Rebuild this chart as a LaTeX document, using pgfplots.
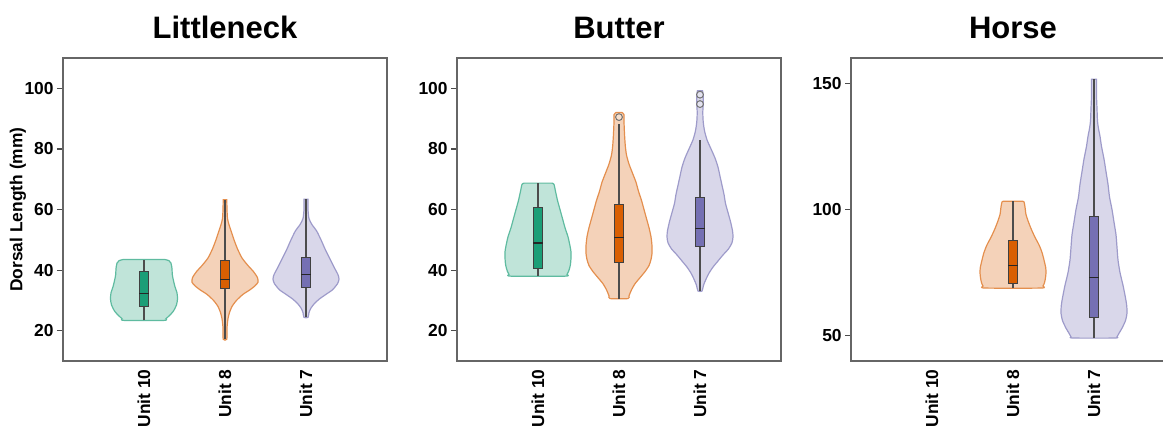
\documentclass[border=0pt]{standalone}
\usepackage{fontspec}
\setmainfont{Liberation Sans}
\usepackage{pgfplots}
\usepackage{pgfplotstable}
\pgfplotsset{compat=1.18}

\definecolor{cg}{HTML}{1B9E77}
\definecolor{co}{HTML}{D95F02}
\definecolor{cp}{HTML}{7570B3}

% builds a closed outline: right side top->bottom, then left side bottom->top
\newcommand{\mkviolin}[1]{%
  \pgfplotstablesort[sort key=y, sort cmp={float <}]{\tmprev}{#1}%
  \pgfplotstablecreatecol[expr={-\thisrow{w}}]{d}{\tmprev}%
  \pgfplotstablecreatecol[expr={\thisrow{w}}]{d}{#1}%
  \pgfplotstablevertcat{#1}{\tmprev}%
}

% violin half-widths (w, in px of a 81 px category step) at values y, top to bottom
\pgfplotstableread{
y w
43.5 21
43.1 25
42.3 27
40.5 28
38.5 28.3
36.5 29.5
34.5 31
32.5 33
30.5 33.5
28.5 32.5
26.5 29.5
25 25.5
24 22
23.4 20
}\LNten
\pgfplotstableread{
y w
63.2 1.8
60 2
57 2.5
55 4
53 6
50 9
47 12.5
44 17
41.5 23
39.5 28.5
37.5 32.5
36 33
34.8 30
33.5 25
32 18
30 11.5
28 7
26 4.5
24 3
21 2
17.2 1.8
}\LNeight
\pgfplotstableread{
y w
63.4 2
60 2
57 3
55 6
53 10.5
50 15
47 19
44 23.5
41 28
38.5 32
37 33
35.5 31.5
33.5 26.5
32 20
30.5 13.5
29 8.5
27.5 5
26 3
24.4 2
}\LNseven
\pgfplotstableread{
y w
68.7 14
68.3 16
66 17.5
63 19.5
60 22
57 24.5
54 27
51 30
48 32
46 33
44 33
42 32.5
40.5 31.5
39.5 30.5
38.6 29
38.0 27
}\Bten
\pgfplotstableread{
y w
92 3
91.3 5
89 5
85 5.5
81 6.3
78 7.5
75 10
72 13.5
69 17
66 19.5
63 22.5
60 25
57 27.5
54 30
51 32
48 33
45.5 33
43.5 32
41.5 30
39.5 26
37.5 21
35.5 16
33.5 12.5
31.5 10
30.6 9
}\Beight
\pgfplotstableread{
y w
99.2 2.5
98 3.2
96.5 3.2
94.5 3.2
92 2.8
89 3.2
86 4.5
83 7
80 11
77 15
74 18
71 20
68 22
65 24
62 25.5
59 28
56 30.5
53 32.5
51 33
49 32
47 28.5
45 23
43 18
41 13
39 9
37 6
35 3.5
33.1 2
}\Bseven
\pgfplotstableread{
y w
103.3 9
103 11
101 12
98 13
95 15.5
92 18.5
89 22
86 26
83 29
80 31
77 32.7
75 33
73 32.5
71 31.5
69.7 30
68.9 28
}\Height
\pgfplotstableread{
y w
151.6 2.5
145 2.5
140 3
135 3.5
132 4.5
129 6
125 7.5
120 10
115 12
110 14
105 15.5
100 18
95 20
90 22
85 23
80 24
75 26
70 29
65 31.5
62 32.7
59 33
56 31.5
53 28
51 25
49.6 23
49.1 21
}\Hseven

\mkviolin{\LNten}
\mkviolin{\LNeight}
\mkviolin{\LNseven}
\mkviolin{\Bten}
\mkviolin{\Beight}
\mkviolin{\Bseven}
\mkviolin{\Height}
\mkviolin{\Hseven}

% #1 centre, #2 table, #3 colour
\newcommand{\violin}[3]{%
  \addplot[fill=#3, fill opacity=0.28, draw=#3!70!white, line width=0.6pt, smooth, tension=0.4]
    table[x expr={#1+\thisrow{d}/81}, y=y] {#2} -- cycle;
}
% #1 centre, #2 left, #3 right, #4 min, #5 q1, #6 median, #7 q3, #8 max, #9 colour
\newcommand{\bx}[9]{%
  \addplot[draw=black!70, line width=0.6pt] coordinates {(#1,#4) (#1,#8)};
  \addplot[draw=black!75, fill=#9, line width=0.5pt] coordinates {(#2,#5) (#3,#5) (#3,#7) (#2,#7)} -- cycle;
  \addplot[draw=black!85, line width=0.7pt] coordinates {(#2,#6) (#3,#6)};
}

\pgfplotsset{
  panel/.style={
    scale only axis, width=162pt, height=151.5pt,
    xmin=0, xmax=4, xtick={1,2,3}, xticklabels={Unit 10,Unit 8,Unit 7},
    axis line style={black!60, line width=0.75pt},
    xtick style={draw=none},
    ytick pos=left, tick align=outside, major tick length=3pt,
    ytick style={black!70, line width=0.6pt},
    tick label style={font=\fontsize{8.7}{10}\selectfont\bfseries},
    /pgf/number format/assume math mode=true,
    xticklabel style={rotate=90, anchor=east, inner sep=1pt},
    yticklabel style={inner sep=1.5pt},
    every axis title/.style={at={(0.5,1)}, anchor=base, yshift=10pt,
      font=\fontsize{15.5}{18}\selectfont\bfseries},
  },
}

\begin{document}
\begin{tikzpicture}
\begin{axis}[panel, at={(31.5pt,32pt)}, anchor=south west,
  ymin=10, ymax=110, ytick={20,40,60,80,100}, title={Littleneck},
  ylabel={Dorsal Length (mm)},
  every axis y label/.style={at={(axis description cs:-0.139,0.5)}, rotate=90, anchor=center,
    font=\fontsize{8.7}{10}\selectfont\bfseries}]
\violin{1}{\LNten}{cg}
\violin{2}{\LNeight}{co}
\violin{3}{\LNseven}{cp}
\bx{1}{0.944}{1.056}{23.4}{28.0}{32.2}{39.7}{43.5}{cg}
\bx{2}{1.944}{2.056}{17.2}{33.8}{36.9}{43.2}{63.2}{co}
\bx{3}{2.944}{3.056}{24.4}{34.4}{38.5}{44.1}{63.4}{cp}
\end{axis}

\begin{axis}[panel, at={(228.5pt,32pt)}, anchor=south west,
  ymin=10, ymax=110, ytick={20,40,60,80,100}, title={Butter}]
\violin{1}{\Bten}{cg}
\violin{2}{\Beight}{co}
\violin{3}{\Bseven}{cp}
\bx{1}{0.944}{1.056}{38.0}{40.6}{49.0}{60.6}{68.7}{cg}
\bx{2}{1.944}{2.056}{30.6}{42.6}{50.7}{61.6}{88.1}{co}
\bx{3}{2.944}{3.056}{33.1}{47.9}{53.8}{64.0}{82.8}{cp}
\addplot[only marks, mark=*, mark size=1.7pt, mark options={fill=co!20, draw=black!55, line width=0.5pt}] coordinates {(2,90.5)};
\addplot[only marks, mark=*, mark size=1.7pt, mark options={fill=cp!20, draw=black!55, line width=0.5pt}] coordinates {(3,94.8) (3,97.9)};
\end{axis}

\begin{axis}[panel, at={(425.5pt,32pt)}, anchor=south west,
  ymin=40, ymax=160, ytick={50,100,150}, title={Horse}]
\violin{2}{\Height}{co}
\violin{3}{\Hseven}{cp}
\bx{2}{1.944}{2.056}{68.9}{70.5}{77.8}{87.8}{103.3}{co}
\bx{3}{2.944}{3.056}{49.1}{57.3}{73.0}{97.3}{151.6}{cp}
\end{axis}
\pgfresetboundingbox
\useasboundingbox (0,0) rectangle (581.5pt,212.5pt);
\end{tikzpicture}
\end{document}
